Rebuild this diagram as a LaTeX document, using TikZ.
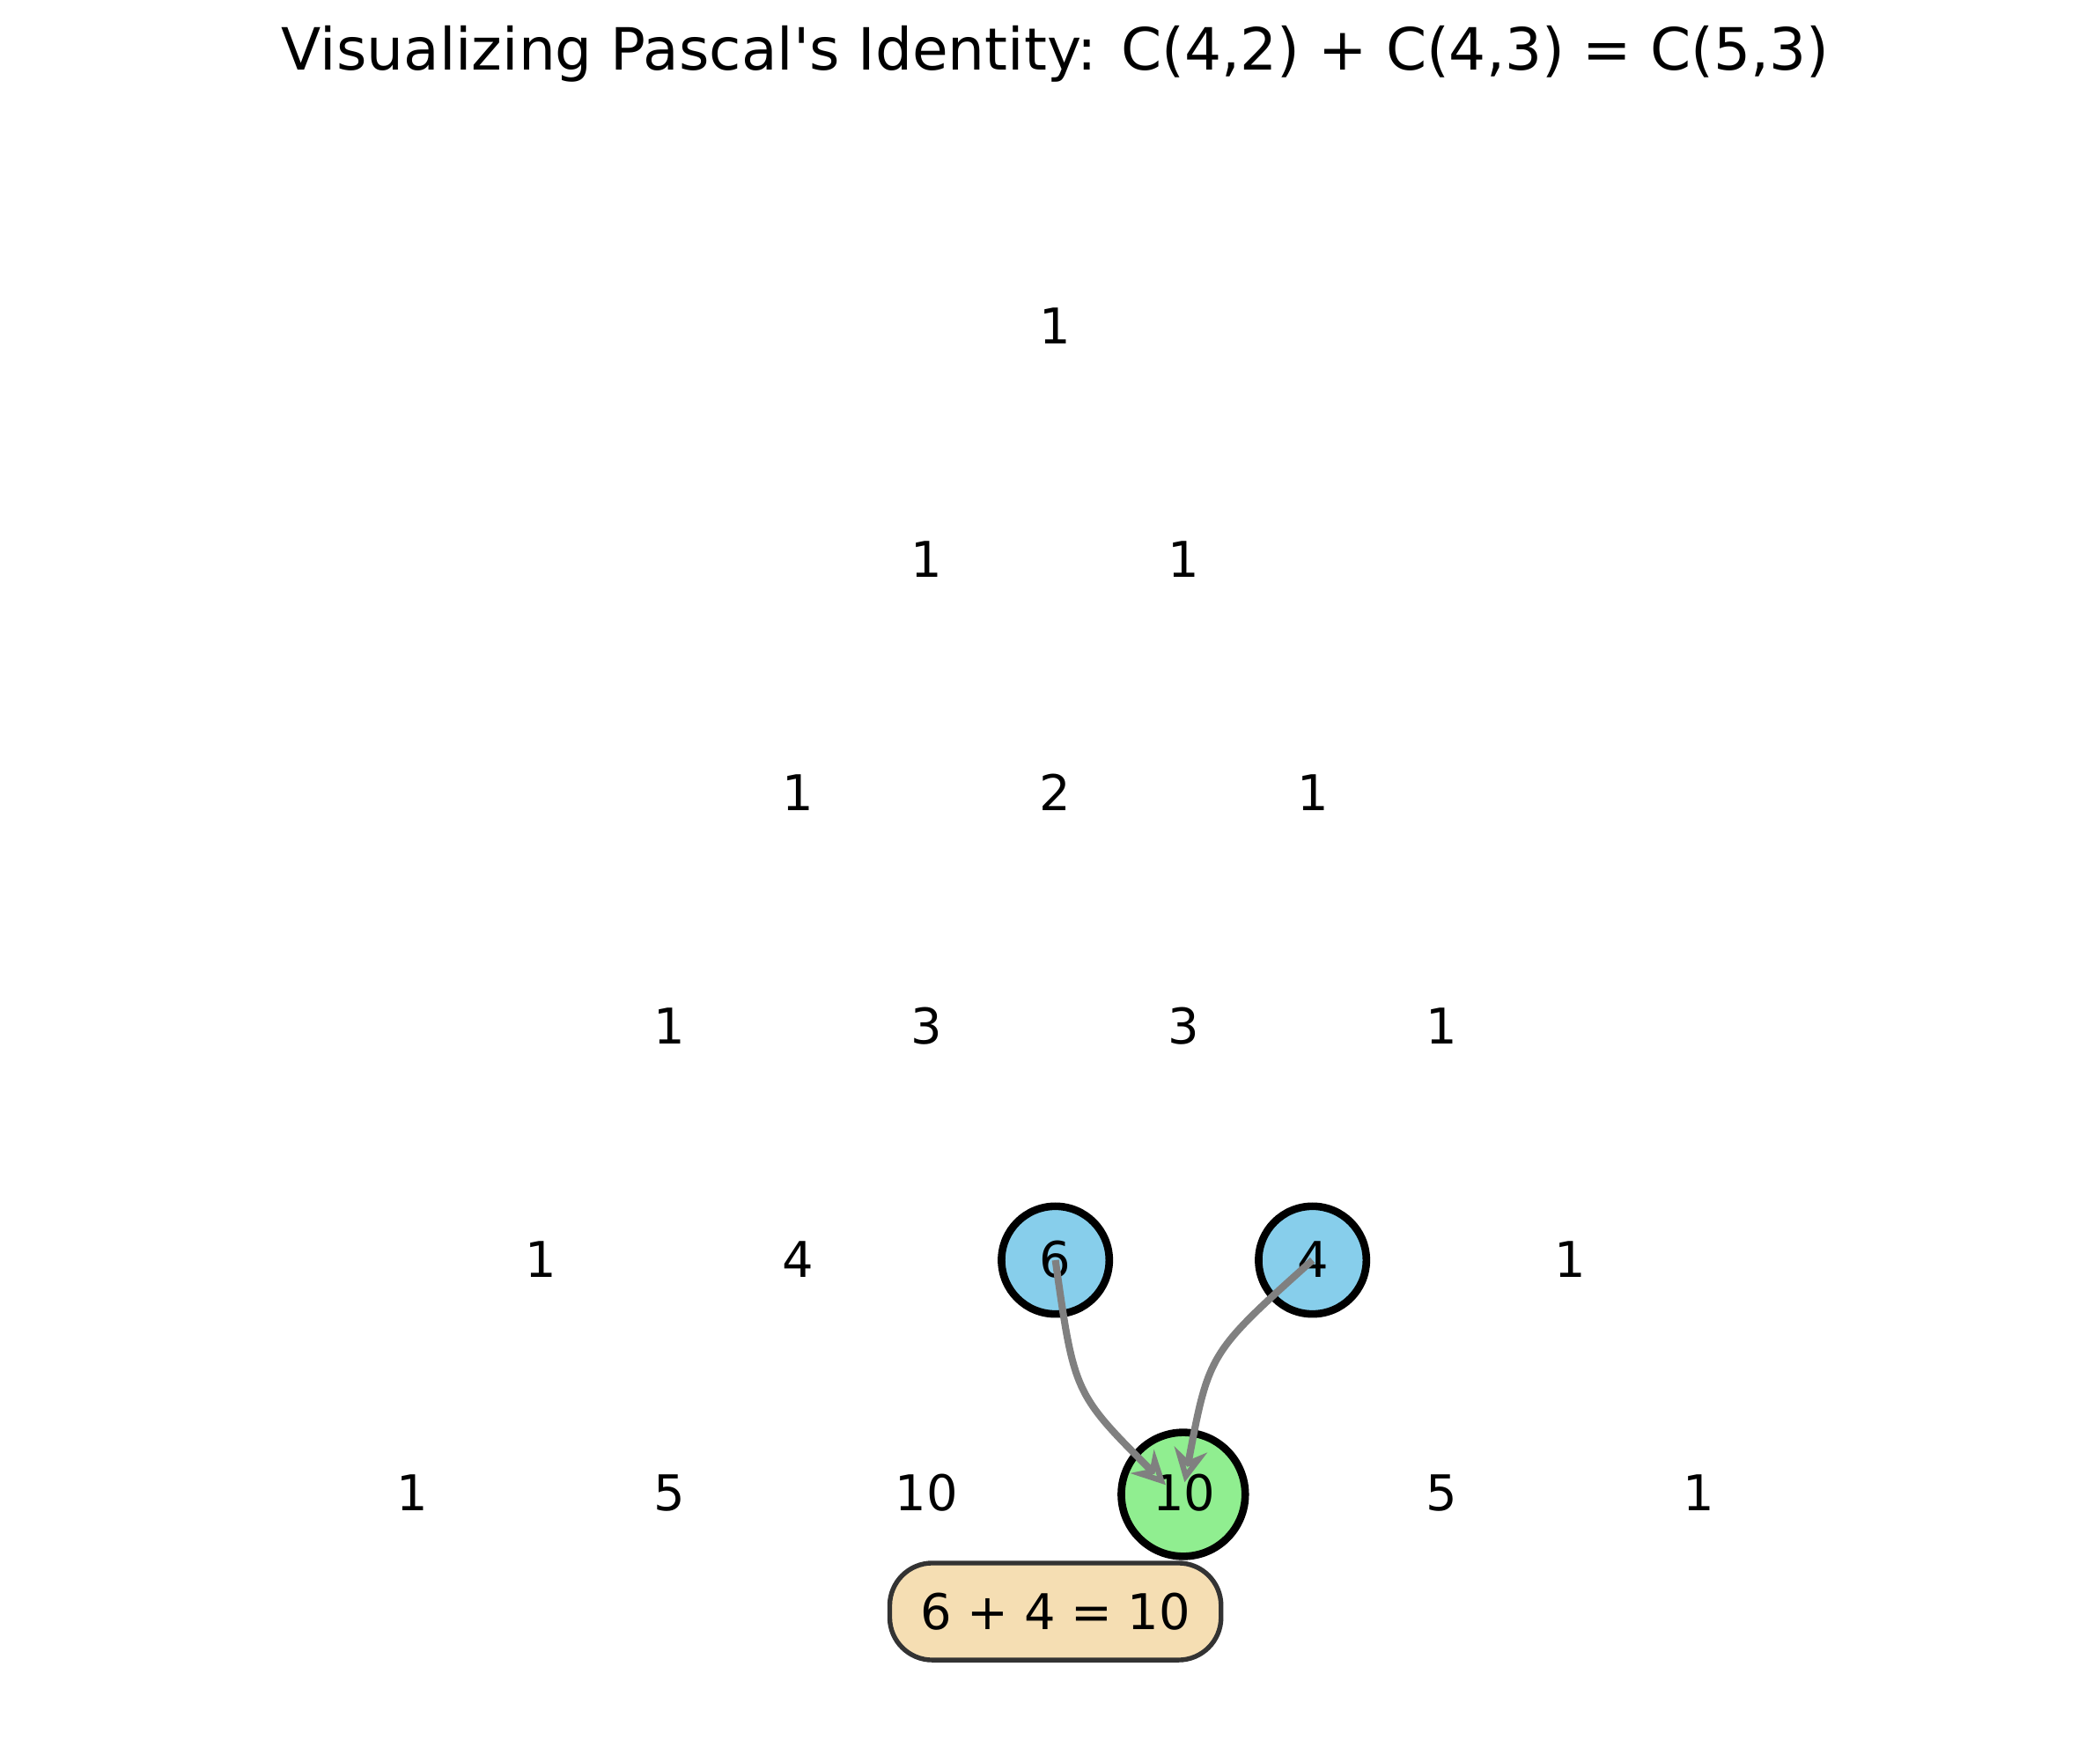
\documentclass[tikz,border=0pt]{standalone}
\usepackage{fontspec}
\setmainfont{DejaVu Sans}
\usetikzlibrary{arrows.meta}
\definecolor{skyb}{RGB}{135,206,235}
\definecolor{lgreen}{RGB}{144,238,144}
\definecolor{wheat}{RGB}{245,222,179}
\begin{document}
\begin{tikzpicture}[x=0.01cm,y=-0.01cm,
  num/.style={font=\fontsize{10.4}{12}\selectfont},
  hl/.style={circle,draw=black,line width=1.6pt,inner sep=0pt},
  arr/.style={draw=gray,line width=1.5pt,-{Stealth[open,length=7pt,width=7pt]}}]
\useasboundingbox (0,0) rectangle (1560,1298);
\node[font=\fontsize{12.3}{14}\selectfont] (title) at (784,40) {Visualizing Pascal\textquotesingle s Identity: C(4,2) + C(4,3) = C(5,3)};
\node[hl,fill=skyb,minimum size=0.8cm] (c6) at (784,936) {};
\node[hl,fill=skyb,minimum size=0.8cm] (c4) at (975,936) {};
\node[hl,fill=lgreen,minimum size=0.92cm] (c10) at (879,1110) {};
\foreach \r/\vals in {0/{1},1/{1,1},2/{1,2,1},3/{1,3,3,1},4/{1,4,6,4,1},5/{1,5,10,10,5,1}}{
  \foreach \v [count=\k from 0] in \vals {
    \node[num] (n\r\k) at ({784+(2*\k-\r)*95.6},{242+\r*173.4}) {\v};
  }
}
\coordinate (e6) at (866,1103);
\coordinate (e4) at (880,1101);
\draw[arr] (c6.center) .. controls (798,1035) .. (e6);
\draw[arr] (c4.center) .. controls (898,1005) .. (e4);
\node[draw=black!80,line width=1pt,fill=wheat,rounded corners=9pt,minimum width=2.46cm,minimum height=0.72cm,num] (box) at (784,1197) {6 + 4 = 10};
\end{tikzpicture}
\end{document}
